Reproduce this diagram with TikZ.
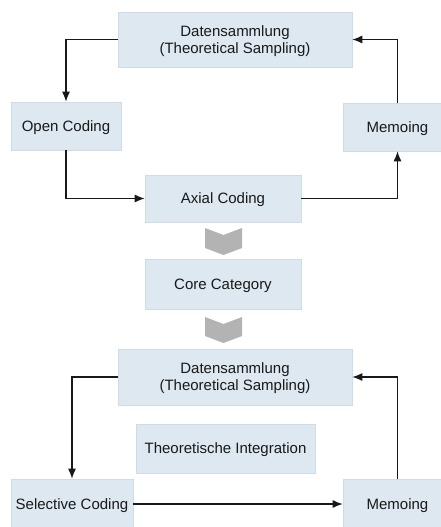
\documentclass[tikz,border=0pt]{standalone}
\usepackage{fontspec}
\setmainfont{Liberation Sans}
\usetikzlibrary{arrows.meta}
\definecolor{boxfill}{HTML}{DDE8F1}
\definecolor{boxline}{HTML}{CFDCE8}
\definecolor{chevgray}{HTML}{B3B3B3}
\tikzset{
  stepbox/.style={fill=boxfill,draw=boxline,line width=0.6pt,inner sep=0pt,align=center,
    font=\fontsize{15}{17}\selectfont,text=black!90,text depth=0pt},
  flow/.style={-{Latex[length=10pt,width=8pt]},line width=1.2pt,black!90},
  chev/.style={fill=chevgray}
}
\begin{document}
\begin{tikzpicture}[x=1pt,y=-1pt]
	\useasboundingbox (0,0) rectangle (441,527);
	\clip (0,0) rectangle (441,527);
	%first cycle
	\node[stepbox,minimum width=234pt,minimum height=55pt] (daten1) at (235,39.5) {Datensammlung\\(Theoretical Sampling)};
	\node[stepbox,minimum width=110pt,minimum height=48pt] (open) at (66,126) {Open Coding};
	\node[stepbox,minimum width=109pt,minimum height=48pt] (memo1) at (397.5,127) {Memoing};
	\node[stepbox,minimum width=156pt,minimum height=47pt] (axial) at (223,198.5) {Axial Coding};
	\draw[flow] (daten1.west) -| (open.north);
	\draw[flow] (open.south) |- (axial.west);
	\draw[flow] (axial.east) -| (memo1.south);
	\draw[flow] (memo1.north) |- (daten1.east);
	%core
	\fill[chev] (205,228) -- (223.5,235) -- (242,228) -- (242,248) -- (223.5,255) -- (205,248) -- cycle;
	\node[stepbox,minimum width=156pt,minimum height=50pt] (core) at (223,284) {Core Category};
	\fill[chev] (205,317) -- (223.5,324) -- (242,317) -- (242,336) -- (223.5,343) -- (205,336) -- cycle;
	%second cycle
	\node[stepbox,minimum width=234pt,minimum height=56pt] (daten2) at (235,377) {Datensammlung\\(Theoretical Sampling)};
	\node[stepbox,minimum width=179pt,minimum height=49pt] (integ) at (225.5,448.5) {Theoretische Integration};
	\node[stepbox,minimum width=122pt,minimum height=50pt] (select) at (72,504) {Selective Coding};
	\node[stepbox,minimum width=109pt,minimum height=50pt] (memo2) at (397.5,504) {Memoing};
	\draw[flow] (daten2.west) -| (select.north);
	\draw[flow] (select.east) -- (memo2.west);
	\draw[flow] (memo2.north) |- (daten2.east);
\end{tikzpicture}
\end{document}
